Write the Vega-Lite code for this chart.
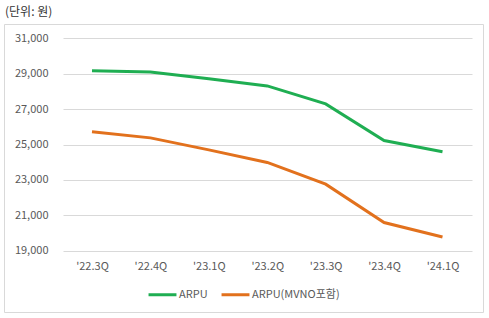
{
  "$schema": "https://vega.github.io/schema/vega-lite/v6.json",
  "width": 479,
  "height": 288,
  "autosize": {"type": "none"},
  "padding": {"left": 4, "top": 24, "right": 6, "bottom": 6},
  "background": "white",
  "title": {
    "text": "(단위: 원)",
    "anchor": "start",
    "font": "Noto Sans CJK KR",
    "fontSize": 12,
    "fontWeight": "normal",
    "color": "#333333",
    "offset": 5,
    "dx": 1
  },
  "config": {
    "view": {"stroke": "#d9d9d9", "strokeWidth": 1},
    "font": "Noto Sans CJK KR"
  },
  "data": {
    "values": [
      {"q": "'22.3Q", "series": "ARPU", "v": 29170},
      {"q": "'22.4Q", "series": "ARPU", "v": 29100},
      {"q": "'23.1Q", "series": "ARPU", "v": 28720},
      {"q": "'23.2Q", "series": "ARPU", "v": 28320},
      {"q": "'23.3Q", "series": "ARPU", "v": 27300},
      {"q": "'23.4Q", "series": "ARPU", "v": 25230},
      {"q": "'24.1Q", "series": "ARPU", "v": 24590},
      {"q": "'22.3Q", "series": "ARPU(MVNO포함)", "v": 25720},
      {"q": "'22.4Q", "series": "ARPU(MVNO포함)", "v": 25380},
      {"q": "'23.1Q", "series": "ARPU(MVNO포함)", "v": 24700},
      {"q": "'23.2Q", "series": "ARPU(MVNO포함)", "v": 23990},
      {"q": "'23.3Q", "series": "ARPU(MVNO포함)", "v": 22760},
      {"q": "'23.4Q", "series": "ARPU(MVNO포함)", "v": 20590},
      {"q": "'24.1Q", "series": "ARPU(MVNO포함)", "v": 19770}
    ]
  },
  "mark": {"type": "line", "strokeWidth": 3, "interpolate": "linear"},
  "encoding": {
    "x": {
      "field": "q",
      "type": "ordinal",
      "sort": null,
      "scale": {"type": "point", "range": [88, 438.5], "padding": 0},
      "axis": {
        "title": null,
        "offset": -61.3,
        "domain": false,
        "ticks": false,
        "grid": false,
        "labelAngle": 0,
        "labelPadding": 10,
        "labelFontSize": 11,
        "labelColor": "#595959",
        "labelFont": "Noto Sans CJK KR"
      }
    },
    "y": {
      "field": "v",
      "type": "quantitative",
      "scale": {"domain": [15533, 31820], "nice": false, "zero": false},
      "axis": {
        "title": null,
        "values": [19000, 21000, 23000, 25000, 27000, 29000, 31000],
        "format": ",d",
        "offset": -59,
        "domain": false,
        "grid": false,
        "ticks": true,
        "tickSize": -409,
        "tickColor": "#d9d9d9",
        "tickWidth": 1,
        "labelPadding": 424,
        "labelFontSize": 11,
        "labelColor": "#595959",
        "labelFont": "Noto Sans CJK KR"
      }
    },
    "color": {
      "field": "series",
      "type": "nominal",
      "scale": {"domain": ["ARPU", "ARPU(MVNO포함)"], "range": ["#1fae52", "#e2711d"]},
      "legend": {
        "title": null,
        "orient": "none",
        "direction": "horizontal",
        "legendX": 143,
        "legendY": 255,
        "padding": 0,
        "symbolType": "stroke",
        "symbolSize": 780,
        "symbolStrokeWidth": 3,
        "labelFontSize": 11,
        "labelColor": "#595959",
        "labelFont": "Noto Sans CJK KR",
        "labelOffset": 1,
        "columnPadding": 7
      }
    }
  }
}
